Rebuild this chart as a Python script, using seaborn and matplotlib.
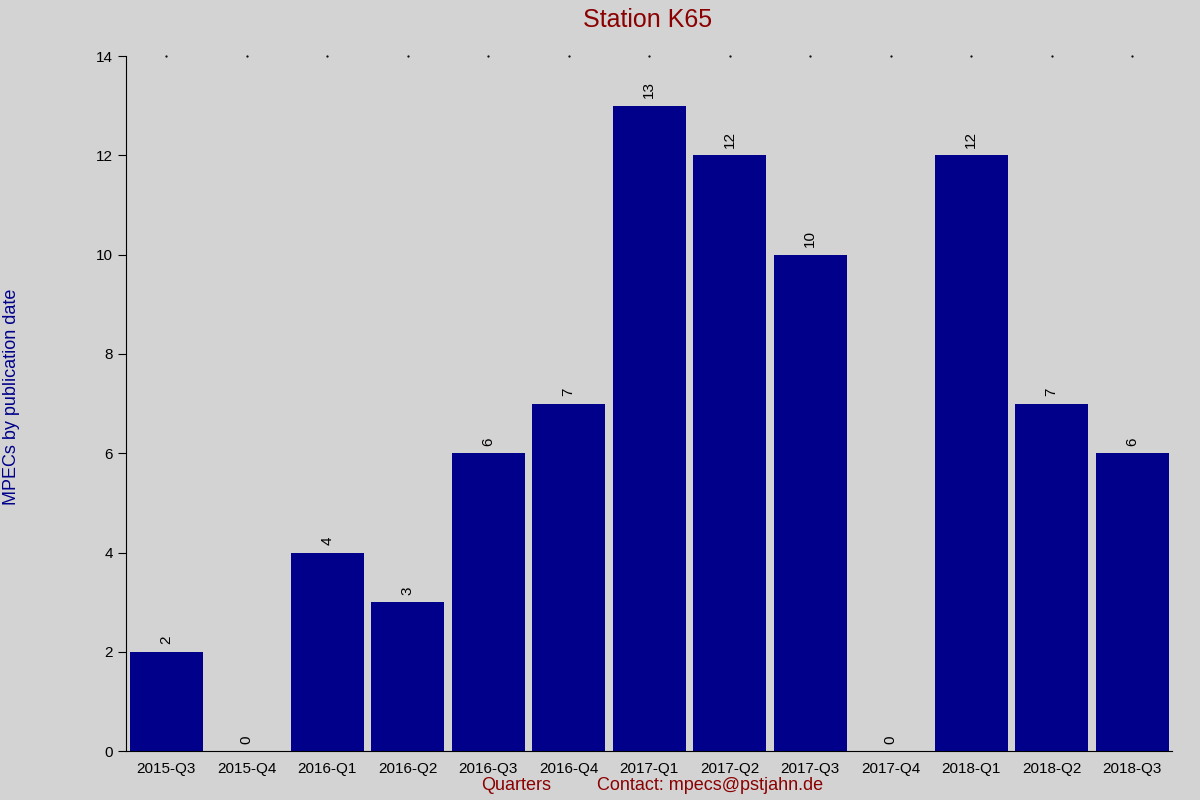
import matplotlib
matplotlib.use("Agg")
import matplotlib.pyplot as plt
import seaborn as sns
import pandas as pd

quarters = ["2015-Q3","2015-Q4","2016-Q1","2016-Q2","2016-Q3","2016-Q4","2017-Q1",
            "2017-Q2","2017-Q3","2017-Q4","2018-Q1","2018-Q2","2018-Q3"]
counts = [2,0,4,3,6,7,13,12,10,0,12,7,6]

sns.set_style("white")
plt.rcParams['font.family'] = ['Liberation Sans', 'DejaVu Sans']
bg = "#d3d3d3"
fig = plt.figure(figsize=(12, 8), dpi=100, facecolor=bg)
ax = fig.add_axes([0.105, 0.061, 0.872, 0.869], facecolor=bg)
df = pd.DataFrame({"q": quarters, "n": counts})
sns.barplot(data=df, x="q", y="n", color="#00008b", saturation=1, width=0.91,
            linewidth=0, ax=ax)
ax.set_xlim(-0.5, 12.5)
ax.set_ylim(0, 14)
ax.set_yticks(range(0, 15, 2))
for i, v in enumerate(counts):
    ax.text(i, v + 0.15, str(v), rotation=90, ha="center", va="bottom", fontsize=11, color="black")
for s in ["top", "right"]:
    ax.spines[s].set_visible(False)
ax.spines["left"].set_color("black")
ax.spines["bottom"].set_color("black")
ax.tick_params(axis="y", left=True, length=6, color="black", labelsize=11,
               labelcolor="black", direction="out")
ax.tick_params(axis="x", bottom=False, labelsize=11, labelcolor="black", pad=4)
ax.set_xlabel("")
ax.set_ylabel("")
for i in range(13):
    ax.plot(i, 14, marker=".", color="black", markersize=1.2, clip_on=False)
fig.text(0.01, 0.504, "MPECs by publication date", rotation=90, ha="center", va="center",
         fontsize=13, color="#00008b")
fig.text(0.54, 0.975, "Station K65", ha="center", va="center", fontsize=18, color="#8b0000")
fig.text(0.43, 0.018, "Quarters", ha="center", va="center", fontsize=13, color="#8b0000")
fig.text(0.592, 0.018, "Contact: mpecs@pstjahn.de", ha="center", va="center", fontsize=13, color="#8b0000")
fig.savefig("out.png", dpi=100, facecolor=bg)
